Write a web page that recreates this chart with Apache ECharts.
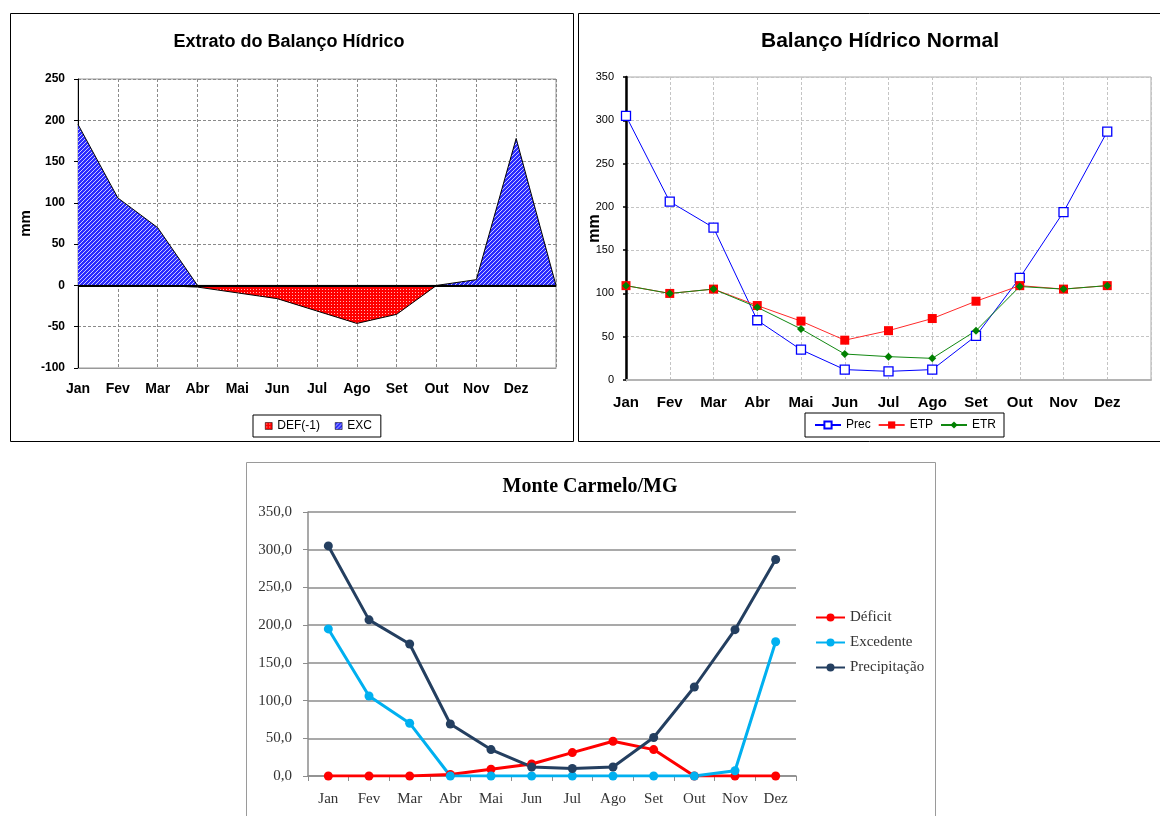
<!DOCTYPE html>
<html><head><meta charset="utf-8">
<script src="https://cdn.jsdelivr.net/npm/echarts@6/dist/echarts.min.js"></script>
<style>html,body{margin:0;padding:0;background:#fff}#c{width:1160px;height:816px}</style>
</head><body><div id="c"></div>
<script>
// ---- data ----
const months = ['Jan','Fev','Mar','Abr','Mai','Jun','Jul','Ago','Set','Out','Nov','Dez'];
const monthsPadded = months.concat(['']);
// Extrato do Balanço Hídrico
const defNeg = [0, 0, 0, -2, -9, -16, -31, -46, -35, 0, 0, 0, 0];
const exc    = [195, 106, 70, 0, 0, 0, 0, 0, 0, 0, 7, 178, 0];
// Balanço Hídrico Normal
const prec = [305, 206, 176, 69, 35, 12, 10, 12, 51, 118, 194, 287];
const etp  = [109, 100, 105, 86, 68, 46, 57, 71, 91, 109, 105, 109];
const etr  = [109, 100, 105, 84, 59, 30, 27, 25, 57, 108, 105, 109];
// Monte Carmelo/MG
const deficit   = [0, 0, 0, 2, 9, 16, 31, 46, 35, 0, 0, 0];
const excedente = [195, 106, 70, 0, 0, 0, 0, 0, 0, 0, 7, 178];
const precipitacao = [305, 207, 175, 69, 35, 12, 10, 12, 51, 118, 194, 287];

const SANS = 'Liberation Sans', SERIF = 'Liberation Serif';

function hatchPattern(bg, fg) {
  const s = 4, c = document.createElement('canvas');
  c.width = s; c.height = s;
  const g = c.getContext('2d');
  g.fillStyle = bg; g.fillRect(0, 0, s, s);
  g.fillStyle = fg;
  for (let i = 0; i < s; i++) g.fillRect(i, s - 1 - i, 1, 1);
  return { image: c, repeat: 'repeat' };
}
function dotPattern(bg, fg) {
  const s = 3, c = document.createElement('canvas');
  c.width = s; c.height = s;
  const g = c.getContext('2d');
  g.fillStyle = bg; g.fillRect(0, 0, s, s);
  g.fillStyle = fg; g.fillRect(1, 1, 1, 1);
  return { image: c, repeat: 'repeat' };
}
const bluePat = hatchPattern('#2a2aff', 'rgba(255,255,255,0.75)');
const redPat = dotPattern('#ff0000', '#ffb4b4');

const chart = echarts.init(document.getElementById('c'), null, { renderer: 'canvas' });

const option = {
  animation: false,
  backgroundColor: '#fff',
  graphic: [
    { type: 'rect', silent: true, z: -10, shape: { x: 10.5, y: 13.5, width: 563, height: 428 }, style: { fill: 'none', stroke: '#000', lineWidth: 1 } },
    { type: 'rect', silent: true, z: -10, shape: { x: 578.5, y: 13.5, width: 600, height: 428 }, style: { fill: 'none', stroke: '#000', lineWidth: 1 } },
    { type: 'rect', silent: true, z: -10, shape: { x: 246.5, y: 462.5, width: 689, height: 400 }, style: { fill: 'none', stroke: '#9a9a9a', lineWidth: 1 } }
  ],
  title: [
    { text: 'Extrato do Balanço Hídrico', left: 289, top: 33, textAlign: 'center', padding: 0,
      textStyle: { fontFamily: SANS, fontWeight: 'bold', fontSize: 18, color: '#000' } },
    { text: 'Balanço Hídrico Normal', left: 880, top: 31, textAlign: 'center', padding: 0,
      textStyle: { fontFamily: SANS, fontWeight: 'bold', fontSize: 21, color: '#000' } },
    { text: 'Monte Carmelo/MG', left: 590, top: 477, textAlign: 'center', padding: 0,
      textStyle: { fontFamily: SERIF, fontWeight: 'bold', fontSize: 20, color: '#000' } }
  ],
  legend: [
    { left: 253, top: 415, orient: 'horizontal', padding: [5, 9, 5, 12], itemGap: 15,
      itemWidth: 7, itemHeight: 7, borderColor: '#000', borderWidth: 1, backgroundColor: '#fff',
      textStyle: { fontFamily: SANS, fontSize: 12, color: '#000' },
      data: [
        { name: 'DEF(-1)', icon: 'rect', itemStyle: { color: redPat, borderColor: '#000', borderWidth: 0.5 } },
        { name: 'EXC', icon: 'rect', itemStyle: { color: bluePat, borderColor: '#000', borderWidth: 0.5 } }
      ] },
    { left: 805, top: 413, orient: 'horizontal', padding: [6, 8, 6, 9], itemGap: 7,
      itemWidth: 26, itemHeight: 9, borderColor: '#000', borderWidth: 1, backgroundColor: '#fff',
      textStyle: { fontFamily: SANS, fontSize: 12, color: '#000' },
      data: ['Prec', 'ETP', 'ETR'] },
    { left: 815, top: 610, orient: 'vertical', padding: 0, itemGap: 10,
      itemWidth: 29, itemHeight: 10,
      textStyle: { fontFamily: SERIF, fontSize: 15, color: '#333' },
      data: ['Déficit', 'Excedente', 'Precipitação'] }
  ],
  grid: [
    { left: 78, top: 79, width: 478, height: 289, show: true, borderColor: '#999', borderWidth: 1, outerBoundsMode: 'none' },
    { left: 626, top: 77, width: 525, height: 303, show: true, borderColor: '#aaa', borderWidth: 1, outerBoundsMode: 'none' },
    { left: 308, top: 512, width: 488, height: 264, show: false, outerBoundsMode: 'none' }
  ],
  xAxis: [
    { gridIndex: 0, type: 'category', data: monthsPadded, boundaryGap: false,
      axisLine: { show: true, onZero: false, lineStyle: { color: '#999', width: 1 } },
      axisTick: { show: false },
      axisLabel: { interval: 0, margin: 14, fontFamily: SANS, fontWeight: 'bold', fontSize: 14, color: '#000' },
      splitLine: { show: true, interval: 0, lineStyle: { color: '#8a8a8a', type: [3, 2], width: 1 } } },
    { gridIndex: 1, type: 'category', data: monthsPadded, boundaryGap: false,
      axisLine: { show: true, onZero: false, lineStyle: { color: '#b4b4b4', width: 2 } },
      axisTick: { show: false },
      axisLabel: { interval: 0, margin: 15, fontFamily: SANS, fontWeight: 'bold', fontSize: 15, color: '#000' },
      splitLine: { show: true, interval: 0, lineStyle: { color: '#c4c4c4', type: [3, 2], width: 1 } } },
    { gridIndex: 2, type: 'category', data: months, boundaryGap: true,
      axisLine: { show: true, lineStyle: { color: '#8c8c8c', width: 1.5 } },
      axisTick: { show: true, length: 5, lineStyle: { color: '#8c8c8c', width: 1 } },
      axisLabel: { interval: 0, margin: 16, fontFamily: SERIF, fontSize: 15, color: '#333' },
      splitLine: { show: false } }
  ],
  yAxis: [
    { gridIndex: 0, type: 'value', min: -100, max: 250, interval: 50,
      name: 'mm', nameLocation: 'middle', nameGap: 45, nameRotate: 90, nameMoveOverlap: false,
      nameTextStyle: { fontFamily: SANS, fontWeight: 'bold', fontSize: 15, color: '#000' },
      axisLine: { show: true, lineStyle: { color: '#000', width: 1 } },
      axisTick: { show: true, length: 4, lineStyle: { color: '#000' } },
      axisLabel: { margin: 13, fontFamily: SANS, fontWeight: 'bold', fontSize: 12, color: '#000' },
      splitLine: { show: true, lineStyle: { color: '#8a8a8a', type: [3, 2], width: 1 } } },
    { gridIndex: 1, type: 'value', min: 0, max: 350, interval: 50,
      name: 'mm', nameLocation: 'middle', nameGap: 23, nameRotate: 90, nameMoveOverlap: false,
      nameTextStyle: { fontFamily: SANS, fontWeight: 'bold', fontSize: 16, color: '#000' },
      axisLine: { show: true, lineStyle: { color: '#000', width: 2.5 } },
      axisTick: { show: true, length: 3, lineStyle: { color: '#000', width: 1.5 } },
      axisLabel: { margin: 12, fontFamily: SANS, fontSize: 11, color: '#000' },
      splitLine: { show: true, lineStyle: { color: '#c4c4c4', type: [3, 2], width: 1 } } },
    { gridIndex: 2, type: 'value', min: 0, max: 350, interval: 50,
      axisLine: { show: true, lineStyle: { color: '#8c8c8c', width: 1.5 } },
      axisTick: { show: true, length: 5, lineStyle: { color: '#8c8c8c' } },
      axisLabel: { margin: 16, fontFamily: SERIF, fontSize: 15, color: '#333',
        formatter: v => v.toFixed(1).replace('.', ',') },
      splitLine: { show: true, lineStyle: { color: '#8c8c8c', width: 1.5 } } }
  ],
  series: [
    { name: 'EXC', type: 'line', xAxisIndex: 0, yAxisIndex: 0, data: exc,
      symbol: 'none', itemStyle: { color: '#2a2aff' },
      lineStyle: { color: '#000', width: 1 }, areaStyle: { color: bluePat, opacity: 1 } },
    { name: 'DEF(-1)', type: 'line', xAxisIndex: 0, yAxisIndex: 0, data: defNeg,
      symbol: 'none', itemStyle: { color: '#ff0000' },
      lineStyle: { color: '#000', width: 1 }, areaStyle: { color: redPat, opacity: 1 },
      markLine: { silent: true, symbol: ['none', 'none'], label: { show: false },
        lineStyle: { color: '#000', width: 2, type: 'solid' }, data: [{ yAxis: 0 }] } },

    { name: 'Prec', type: 'line', xAxisIndex: 1, yAxisIndex: 1, data: prec,
      symbol: 'rect', symbolSize: 9,
      itemStyle: { color: '#fff', borderColor: '#0000ff', borderWidth: 1.3 },
      lineStyle: { color: '#0000ff', width: 1 } },
    { name: 'ETP', type: 'line', xAxisIndex: 1, yAxisIndex: 1, data: etp,
      symbol: 'rect', symbolSize: 9,
      itemStyle: { color: '#ff0000' }, lineStyle: { color: '#ff2a2a', width: 1 } },
    { name: 'ETR', type: 'line', xAxisIndex: 1, yAxisIndex: 1, data: etr,
      symbol: 'diamond', symbolSize: 8,
      itemStyle: { color: '#008000' }, lineStyle: { color: '#118811', width: 1 } },

    { name: 'Déficit', type: 'line', xAxisIndex: 2, yAxisIndex: 2, data: deficit,
      symbol: 'circle', symbolSize: 9,
      itemStyle: { color: '#ff0000' }, lineStyle: { color: '#ff0000', width: 3 } },
    { name: 'Excedente', type: 'line', xAxisIndex: 2, yAxisIndex: 2, data: excedente,
      symbol: 'circle', symbolSize: 9,
      itemStyle: { color: '#00b0f0' }, lineStyle: { color: '#00b0f0', width: 3 } },
    { name: 'Precipitação', type: 'line', xAxisIndex: 2, yAxisIndex: 2, data: precipitacao,
      symbol: 'circle', symbolSize: 9,
      itemStyle: { color: '#243f60' }, lineStyle: { color: '#243f60', width: 3 } }
  ]
};
chart.setOption(option);
</script>
</body></html>
